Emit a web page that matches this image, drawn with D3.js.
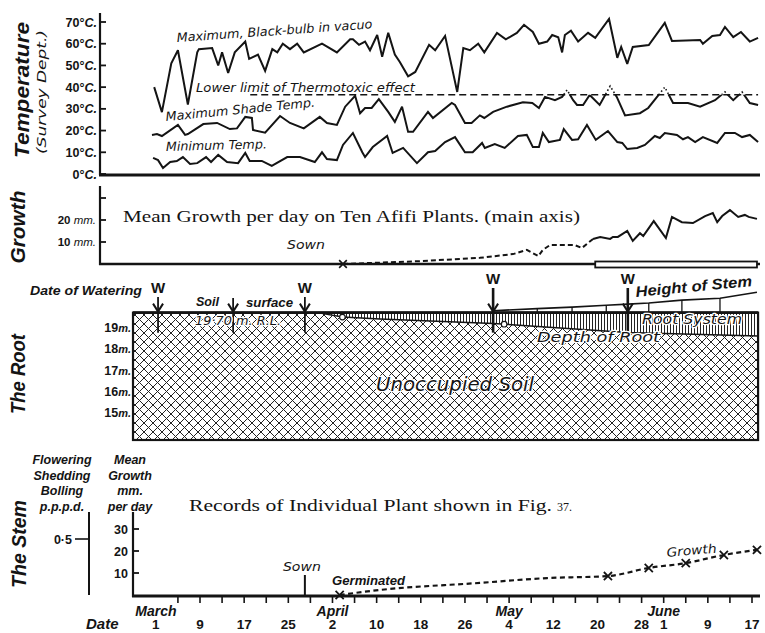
<!DOCTYPE html>
<html>
<head>
<meta charset="utf-8">
<script src="https://cdn.jsdelivr.net/npm/d3@7"></script>
<style>
body { margin: 0; background: #fff; }
svg { display: block; }
text { fill: #141414; }
.it { font-family: "Liberation Sans", Arial, sans-serif; font-style: italic; font-weight: bold; }
.lt { font-family: "DejaVu Sans", sans-serif; font-weight: normal; }
.num { font-family: "Liberation Sans", Arial, sans-serif; font-weight: bold; }
.ser { font-family: "Liberation Serif", "Times New Roman", serif; }
.halo { paint-order: stroke; stroke: #fff; stroke-width: 2.5px; stroke-linejoin: round; }
</style>
</head>
<body>
<div id="chart"></div>
<script>
// days are counted from 1 March (0 = March 1)

// temperature, degrees C
const blackBulb = [[-0.3,40],[1.1,28.5],[2.8,51],[4.0,57],[5.8,32],[7.5,56],[7.8,57.5],[10.2,58],[11.3,50],[12.0,56],
  [13.1,46.5],[14.3,56],[16.2,61],[16.9,53],[18.5,55],[19.8,47.5],[21.1,57.5],[22.0,56],[23.0,60],[24.3,57.5],
  [25.6,60],[26.8,56],[30.1,60],[32.8,56],[35.2,62],[35.7,62],[36.8,59.5],[37.9,61],[38.8,57],[40.1,64],
  [41.0,54],[42.1,65],[43.3,55],[44.2,51.6],[45.7,45],[47.0,47],[49.5,59.5],[50.6,57],[52.4,63.6],[54.6,37.8],
  [55.7,58],[56.9,57],[58.4,60],[59.5,56],[61.8,65],[63.4,62],[65.4,65],[66.7,68.7],[68.3,65.4],[69.4,60],
  [70.9,61],[71.8,64],[72.9,63],[73.6,56],[74.1,64],[75.2,66],[76.5,61],[78.3,65],[79.6,62.7],[82.1,71.4],
  [83.6,53.5],[84.3,58.5],[85.4,50.7],[86.4,58.5],[89.3,59.4],[92.2,69.6],[93.5,61.3],[98.6,61.7],[99.1,60],
  [100.8,63.6],[102.2,64],[103.1,67.7],[104.6,63],[106.0,65.4],[107.6,61],[109.1,62.7]];

const shadeMax = [[-0.7,18],[0.2,18.4],[1.1,17.5],[4.0,22.6],[5.3,18],[5.8,18.4],[8.6,23],[11.1,23.5],[13.4,20.7],
  [14.7,21],[16.2,26.3],[17.4,25.8],[17.6,20.3],[19.8,19],[22.5,26.7],[24.3,23.5],[26.8,21],[29.7,26.3],[31.0,23.5],
  [32.8,22.6],[34.3,31],[36.1,36],[37.0,28],[37.9,30.4],[39.1,30.4],[40.4,34.5],[42.1,28.6],[43.3,24],[44.6,31],
  [45.7,19.4],[46.6,19.4],[49.3,28.6],[50.2,25.8],[53.6,32.7],[54.2,31.8],[56.0,23.5],[57.2,23.5],[58.7,27],
  [59.5,25.8],[61.1,28.6],[63.6,31],[66.5,33],[68.2,32.7],[69.4,30.4],[70.5,35.5],[72.3,34],[73.6,35.5],
  [74.5,38.7],[75.6,34],[76.3,31.8],[77.4,31.8],[78.6,36.4],[80.4,31.8],[82.3,40.5],[83.5,35.5],[85.0,27],
  [87.7,28],[89.2,30.4],[92.2,40],[93.7,32.7],[96.4,32.7],[98.6,31],[101.3,34],[103.1,37.8],[104.6,34],
  [106.2,37.8],[107.6,32.7],[109.1,31.8]];

const minTemp = [[-0.5,7.4],[0.4,6.4],[1.3,2.8],[2.6,5.5],[3.8,6],[4.9,7.8],[6.2,4.6],[7.5,5],[9.1,7.8],[10.0,5.5],
  [11.3,8.8],[12.9,5.5],[14.9,5],[16.2,9.7],[17.0,6],[19.2,6],[21.0,3.7],[23.8,7.8],[26.1,7.8],[28.8,5.5],
  [30.1,10],[31.0,6.9],[32.8,6.4],[33.9,13.4],[35.7,18.9],[37.4,10],[37.9,7.8],[39.3,12.4],[41.9,17.5],[42.9,9.7],
  [44.8,12],[47.3,5],[49.3,10],[50.6,10.6],[52.4,14.7],[54.2,17],[56.0,10],[57.4,10],[59.1,14.3],[59.6,12],
  [61.4,13.8],[63.2,12],[65.6,17.5],[67.2,18],[68.3,12.4],[69.4,12.4],[70.1,18.9],[71.2,14.7],[73.2,15.7],
  [73.9,20.7],[75.4,15.7],[76.5,16],[78.1,22.6],[79.7,15.7],[81.9,19.8],[83.6,14.7],[84.5,14.3],[85.4,11.5],
  [87.2,12],[88.6,13.4],[90.4,17.5],[91.3,16.6],[92.2,18.9],[94.4,18],[95.5,16],[96.4,17],[97.7,14.7],
  [99.1,17],[101.7,14.3],[103.1,18.9],[104.9,18.9],[106.2,17],[107.6,18],[109.1,14.7]];

const thermotoxic = 36.5;
const thermotoxicFrom = 17.1;
const tempTicks = [0, 10, 20, 30, 40, 50, 60, 70];

// mean growth per day, ten plants (mm)
const growthEarly = [[33.9,0],[47.9,1.3],[58.7,2.8],[64.7,4.5],[67.2,6.4],[69.3,3.6],[70.1,6.4],[71.4,8.6],
  [72.7,8.6],[75.9,8.6],[77.2,7.3],[79.2,11.4]];
const growthMain = [[79.2,11.4],[80.5,12.3],[82.3,11.4],[82.8,12.3],[83.7,12.3],[85.4,15],[86.4,10.5],[87.7,14],
  [88.3,12.7],[90.2,19.5],[92.4,11.8],[93.5,21.4],[95.3,19],[97.3,18.6],[99.5,21.8],[100.9,23.2],[101.7,19],
  [102.6,21.8],[104.0,24.5],[105.5,21.4],[106.7,22.3],[107.4,21.4],[108.9,20.5]];
const growthTicks = [10, 20, 30];
const mainSown = 33.9;
const floweringSpan = [79.6, 108.9];

// the root (levels in metres R.L.)
const soilSurface = 19.7;
const rootTicks = [15, 16, 17, 18, 19];
const rootDepth = [[29.3,19.7],[33.8,19.49],[40.6,19.4],[61.1,19.19],[85.4,18.76],[109.1,18.6]];
const rootCircles = [33.8, 63.1];
const stemHeight = [[61.1,0.09],[69.1,0.19],[75.4,0.26],[81.6,0.35],[85.5,0.4],[89.3,0.45],[95.3,0.59],[102.2,0.68],[108.9,0.96]];
const wateringDays = [0.4, 27.0, 61.1, 85.5];
const surfaceArrowDay = 14.0;

// the stem, individual plant
const plantSown = 27.0;
const plantGrowth = [[33.3,0],[40.6,2.3],[58.7,5.5],[70.9,7.7],[81.9,8.6],[89.3,12.3],[96.0,14.5],[102.9,18.2],[108.9,20.5]];
const plantMeasured = [33.3, 81.9, 89.3, 96.0, 102.9, 108.9];
const stemTicks = [10, 20, 30];

// date axis
const labelDays = [0, 8, 16, 24, 32, 40, 48, 56, 64, 72, 80, 88, 92, 100, 108];
const months = ["March", "April", "May", "June"];
const monthDays = [0, 32, 64, 92];

const ink = "#141414";
const svg = d3.select("#chart").append("svg")
    .attr("width", 765)
    .attr("height", 633);

const x = d3.scaleLinear().domain([8, 108]).range([200, 752]);
const yT = d3.scaleLinear().domain([0, 70]).range([174, 22]);
const yG = d3.scaleLinear().domain([0, 10]).range([264, 242]);
const yR = d3.scaleLinear().domain([15, 19]).range([412.5, 327.5]);
const yS = d3.scaleLinear().domain([0, 30]).range([595, 529]);

const defs = svg.append("defs");

// cross hatching for the soil
defs.append("pattern")
    .attr("id", "xhatch")
    .attr("patternUnits", "userSpaceOnUse")
    .attr("width", 9).attr("height", 9)
  .append("path")
    .attr("d", "M-1,1l2,-2M0,9l9,-9M8,10l2,-2M-1,8l2,2M0,0l9,9M8,-1l2,2")
    .attr("stroke", "#222").attr("stroke-width", 1);

// vertical hatching for the root system
defs.append("pattern")
    .attr("id", "vhatch")
    .attr("patternUnits", "userSpaceOnUse")
    .attr("width", 3).attr("height", 10)
  .append("path")
    .attr("d", "M1.5,0V10")
    .attr("stroke", "#222").attr("stroke-width", 1);

defs.append("clipPath").attr("id", "belowLimit")
  .append("rect").attr("x", 0).attr("y", yT(thermotoxic)).attr("width", 765).attr("height", 200);
defs.append("clipPath").attr("id", "aboveLimit")
  .append("rect").attr("x", 0).attr("y", 0).attr("width", 765).attr("height", yT(thermotoxic));

function label(g, px, py, s, cls, size, opts = {}) {
    const t = g.append("text")
        .attr("class", cls)
        .attr("font-size", size)
        .attr("text-anchor", opts.anchor || "start")
        .attr("transform", `translate(${px},${py}) rotate(${opts.rot || 0})`)
        .text(s);
    if (opts.len) t.attr("textLength", opts.len).attr("lengthAdjust", "spacingAndGlyphs");
    return t;
}

function vLine(g, px, y1, y2, w) {
    g.append("line")
        .attr("x1", px).attr("x2", px)
        .attr("y1", y1).attr("y2", y2)
        .attr("stroke", ink).attr("stroke-width", w);
}

function hLine(g, x1, x2, py, w) {
    g.append("line")
        .attr("x1", x1).attr("x2", x2)
        .attr("y1", py).attr("y2", py)
        .attr("stroke", ink).attr("stroke-width", w);
}

// ---------- Temperature ----------
const gT = svg.append("g");
vLine(gT, 100, 13, 175, 2.2);
hLine(gT, 99, 760, 175, 3);

tempTicks.forEach(t => {
    hLine(gT, 100, 106, yT(t), 1.8);
    const tx = gT.append("text")
        .attr("class", "num")
        .attr("font-size", 12.5)
        .attr("text-anchor", "end")
        .attr("x", 97).attr("y", yT(t) + 4.5);
    tx.append("tspan").text(t + "°");
    tx.append("tspan").style("font-style", "italic").text("C.");
});

label(gT, 29, 90, "Temperature", "it", 20, {anchor: "middle", rot: -90, len: 136});
label(gT, 46, 92, "(Survey Dept.)", "it lt", 12.5, {anchor: "middle", rot: -90, len: 124});

const tLine = d3.line().x(d => x(d[0])).y(d => yT(d[1]));

gT.append("line")
    .attr("x1", x(thermotoxicFrom)).attr("x2", x(109.1))
    .attr("y1", yT(thermotoxic)).attr("y2", yT(thermotoxic))
    .attr("stroke", ink).attr("stroke-width", 1.6)
    .attr("stroke-dasharray", "7,4");

[blackBulb, minTemp].forEach(s => {
    gT.append("path")
        .datum(s)
        .attr("d", tLine)
        .attr("fill", "none").attr("stroke", ink)
        .attr("stroke-width", 2).attr("stroke-miterlimit", 3);
});

gT.append("path")
    .datum(shadeMax)
    .attr("d", tLine)
    .attr("clip-path", "url(#belowLimit)")
    .attr("fill", "none").attr("stroke", ink)
    .attr("stroke-width", 2).attr("stroke-miterlimit", 3);

gT.append("path")
    .datum(shadeMax)
    .attr("d", tLine)
    .attr("clip-path", "url(#aboveLimit)")
    .attr("fill", "none").attr("stroke", ink)
    .attr("stroke-width", 1.6).attr("stroke-dasharray", "1.5,2.5");

label(gT, 177, 42, "Maximum, Black-bulb in vacuo", "it lt", 12.5, {rot: -4, len: 196});
label(gT, 196, 92, "Lower limit of Thermotoxic effect", "it lt", 12.5, {len: 219});
label(gT, 166, 121, "Maximum Shade Temp.", "it lt", 12.5, {rot: -5.5, len: 150});
label(gT, 166, 151, "Minimum Temp.", "it lt", 12.5, {rot: -1.5, len: 101});

// ---------- Growth ----------
const gG = svg.append("g");
vLine(gG, 100, 186, 265, 2.2);
hLine(gG, 99, 760, 264, 2.5);
growthTicks.forEach(t => hLine(gG, 100, 106, yG(t), 1.8));
growthTicks.filter(t => t < 30).forEach(t => {
    const tx = gG.append("text")
        .attr("class", "num").attr("font-size", 11.5)
        .attr("text-anchor", "end")
        .attr("x", 96).attr("y", yG(t) + 4);
    tx.append("tspan").text(t + " ");
    tx.append("tspan").style("font-style", "italic").style("font-weight", "normal").text("mm.");
});

label(gG, 25, 227, "Growth", "it", 20, {anchor: "middle", rot: -90, len: 73});
label(gG, 123, 222, "Mean Growth per day on Ten Afifi Plants. (main axis)", "ser", 17, {len: 457});
label(gG, 306, 249, "Sown", "it lt", 12.5, {anchor: "middle", len: 38});

const gLine = d3.line().x(d => x(d[0])).y(d => yG(d[1]));
gG.append("path")
    .datum(growthEarly)
    .attr("d", gLine)
    .attr("fill", "none").attr("stroke", ink)
    .attr("stroke-width", 2).attr("stroke-dasharray", "5,3");
gG.append("path")
    .datum(growthMain)
    .attr("d", gLine)
    .attr("fill", "none").attr("stroke", ink)
    .attr("stroke-width", 2).attr("stroke-miterlimit", 3);

gG.append("path")
    .attr("d", d3.symbol(d3.symbolX, 40)())
    .attr("transform", `translate(${x(mainSown)},${yG(0)})`)
    .attr("fill", "none").attr("stroke", ink).attr("stroke-width", 1.6);

gG.append("rect")
    .attr("x", x(floweringSpan[0])).attr("y", 261.5)
    .attr("width", x(floweringSpan[1]) - x(floweringSpan[0])).attr("height", 6)
    .attr("fill", "#fff").attr("stroke", ink).attr("stroke-width", 1.8);

// ---------- The Root ----------
const gR = svg.append("g");
const rootLeft = 133, rootRight = x(109.1), rootBottom = 440;
const surfY = yR(soilSurface);

gR.append("rect")
    .attr("x", rootLeft).attr("y", surfY)
    .attr("width", rootRight - rootLeft).attr("height", rootBottom - surfY)
    .attr("fill", "url(#xhatch)");

const rootArea = d3.area()
    .x(d => x(d[0]))
    .y0(surfY)
    .y1(d => yR(d[1]));
gR.append("path").datum(rootDepth).attr("d", rootArea).attr("fill", "#fff");
gR.append("path").datum(rootDepth).attr("d", rootArea).attr("fill", "url(#vhatch)");
gR.append("path")
    .datum(rootDepth)
    .attr("d", d3.line().x(d => x(d[0])).y(d => yR(d[1])))
    .attr("fill", "none").attr("stroke", ink).attr("stroke-width", 1.5);

const rootAt = d3.scaleLinear().domain(rootDepth.map(p => p[0])).range(rootDepth.map(p => p[1]));
rootCircles.forEach(d => {
    gR.append("circle")
        .attr("cx", x(d)).attr("cy", yR(rootAt(d)))
        .attr("r", 2.8)
        .attr("fill", "#fff").attr("stroke", ink).attr("stroke-width", 1.2);
});

gR.append("rect")
    .attr("x", rootLeft).attr("y", surfY)
    .attr("width", rootRight - rootLeft).attr("height", rootBottom - surfY)
    .attr("fill", "none").attr("stroke", ink).attr("stroke-width", 2.2);
hLine(gR, rootLeft, rootRight, surfY, 2.6);

rootTicks.forEach(t => {
    const tx = gR.append("text")
        .attr("class", "num").attr("font-size", 12.5)
        .attr("text-anchor", "end")
        .attr("x", 131).attr("y", yR(t) + 4.5);
    tx.append("tspan").text(t);
    tx.append("tspan").style("font-style", "italic").attr("font-size", 11).text("m.");
});

// height of stem
const stemY = d => yR(soilSurface + d[1]);
gR.append("path")
    .datum(stemHeight)
    .attr("d", d3.line().x(d => x(d[0])).y(stemY))
    .attr("fill", "none").attr("stroke", ink).attr("stroke-width", 1.6);
stemHeight.slice(1, -1).forEach(d => vLine(gR, x(d[0]), stemY(d), surfY, 1.3));

// watering arrows
function arrow(px, top, w) {
    vLine(gR, px, top, surfY + 20, w);
    gR.append("path")
        .attr("d", `M${px - 5},${surfY - 9}L${px},${surfY - 1}L${px + 5},${surfY - 9}`)
        .attr("fill", "none").attr("stroke", ink).attr("stroke-width", 2);
}
wateringDays.forEach(d => {
    const raised = d > 60;
    const top = raised ? 288 : 297;
    arrow(x(d), top, raised ? 2.6 : 1.8);
    label(gR, x(d), top - 4, "W", "num", 15, {anchor: "middle"});
});
arrow(x(surfaceArrowDay), 298, 1.8);

label(gR, 25, 374, "The Root", "it", 20, {anchor: "middle", rot: -90, len: 80});
label(gR, 30, 295, "Date of Watering", "it", 13, {len: 112});
label(gR, 196, 306, "Soil", "it", 13, {len: 23});
label(gR, 246, 307, "surface", "it", 13, {len: 47});
label(gR, 195, 325, "19·70 m. R.L.", "it lt halo", 11.5, {len: 86});
label(gR, 376, 391, "Unoccupied  Soil", "it lt halo", 20, {len: 158});
label(gR, 537, 342, "Depth  of  Root", "it lt halo", 14.5, {len: 123});
label(gR, 642, 324, "Root  System", "it lt halo", 14.5, {len: 100});
label(gR, 636, 297, "Height of Stem", "it", 15, {rot: -5.4, len: 117});

// ---------- The Stem ----------
const gS = svg.append("g");
label(gS, 26, 544, "The Stem", "it", 20, {anchor: "middle", rot: -90, len: 88});

["Flowering", "Shedding", "Bolling", "p.p.p.d."].forEach((s, i) =>
    label(gS, 62, 464 + i * 15.5, s, "it", 12.5, {anchor: "middle"}));
["Mean", "Growth", "mm.", "per day"].forEach((s, i) =>
    label(gS, 130, 464 + i * 15.5, s, "it", 12.5, {anchor: "middle"}));

const yF = d3.scaleLinear().domain([0, 0.5]).range([595, 539]);
vLine(gS, 89, 512, 595, 2);
hLine(gS, 75, 89, yF(0.5), 1.6);
label(gS, 72, yF(0.5) + 4.5, "0·5", "num", 12.5, {anchor: "end"});

vLine(gS, 133, 512, 597, 2.2);
hLine(gS, 132, 760, 596, 3);
stemTicks.forEach(t => {
    hLine(gS, 133, 139, yS(t), 1.8);
    label(gS, 128, yS(t) + 4.5, t, "num", 12.5, {anchor: "end"});
});
d3.range(4, 109, 4).forEach(d => vLine(gS, x(d), 596, 603, 1.6));

label(gS, 189, 511, "Records of Individual Plant shown in Fig.", "ser", 16.5, {len: 363});
label(gS, 557, 511, "37.", "ser", 12);

vLine(gS, x(plantSown), 575, 595, 2);
label(gS, x(plantSown) - 3, 571, "Sown", "it lt", 12.5, {anchor: "middle", len: 38});
label(gS, 332, 585, "Germinated", "it", 12.5, {len: 73});
label(gS, 667, 557, "Growth", "it lt", 12.5, {rot: -5, len: 50});

gS.append("path")
    .datum(plantGrowth)
    .attr("d", d3.line().x(d => x(d[0])).y(d => yS(d[1])).curve(d3.curveMonotoneX))
    .attr("fill", "none").attr("stroke", ink)
    .attr("stroke-width", 2.2).attr("stroke-dasharray", "5,3.5");

const plantAt = d3.scaleLinear().domain(plantGrowth.map(p => p[0])).range(plantGrowth.map(p => p[1]));
plantMeasured.forEach(d => {
    gS.append("path")
        .attr("d", d3.symbol(d3.symbolX, 45)())
        .attr("transform", `translate(${x(d)},${yS(plantAt(d))})`)
        .attr("fill", "none").attr("stroke", ink).attr("stroke-width", 1.8);
});

// date labels
labelDays.forEach(d => {
    const dt = new Date(1913, 2, 1 + d);
    label(gS, x(d), 629, dt.getDate(), "num", 13.5, {anchor: "middle"});
});
months.forEach((m, i) => label(gS, x(monthDays[i]), 616, m, "it", 14, {anchor: "middle"}));
label(gS, 86, 629, "Date", "it", 15);
</script>
</body>
</html>
